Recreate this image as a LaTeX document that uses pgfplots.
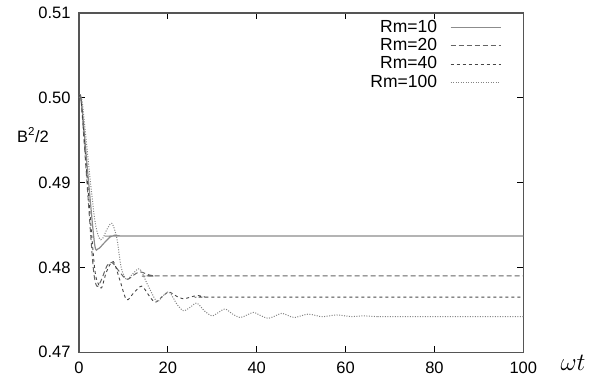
\documentclass[border=0pt]{standalone}
\usepackage{pgfplots}
\pgfplotsset{compat=1.18}
\usepackage{fontspec}
\setmainfont{Liberation Sans}
\definecolor{cten}{RGB}{140,140,140}
\definecolor{ctwenty}{RGB}{100,100,100}
\definecolor{cforty}{RGB}{70,70,70}
\definecolor{chundred}{RGB}{130,130,130}
\definecolor{frame}{RGB}{85,85,85}
\begin{document}
\begin{tikzpicture}[x=1pt,y=1pt]
\useasboundingbox (-79,-29.7) rectangle (515,352.3);
\begin{axis}[
  at={(0,0)}, anchor=south west,
  scale only axis, width=444.3pt, height=339.3pt,
  xmin=0, xmax=100, ymin=0.47, ymax=0.51,
  xtick={0,20,40,60,80,100},
  ytick={0.47,0.48,0.49,0.50,0.51},
  /pgf/number format/assume math mode=true,
  ticklabel style={font=\fontsize{16.5}{18}\selectfont},
  xticklabel style={yshift=-6pt},
  yticklabel style={xshift=-5pt, /pgf/number format/fixed, /pgf/number format/fixed zerofill, /pgf/number format/precision=2},
  tick align=inside, major tick length=6pt,
  tick style={black, line width=0.8pt},
  axis line style={frame, line width=1.2pt},
  scaled y ticks=false,
  legend style={at={(rel axis cs:0.951,0.985)}, anchor=north east, draw=none, fill=none,
    font=\fontsize{17.5}{17.5}\selectfont, inner sep=0pt,
    nodes={inner sep=1pt, text height=13pt, text depth=3.3pt},
    column sep=12pt},
  legend cell align=right,
  legend plot pos=right,
  legend image code/.code={\draw[#1] (0pt,0pt) -- (50pt,0pt);},
  clip mode=individual,
]
\addplot[cten, line width=1.2pt, smooth, tension=0.5] coordinates {
(0,0.5000)(0.5,0.4998)(2,0.4910)(3.5,0.4828)(4.3,0.4822)(5.5,0.4828)(7,0.4836)(8,0.4838)(9.5,0.4837)(12,0.4837)(100,0.4837)};
\addlegendentry{Rm=10}
\addplot[ctwenty, line width=1pt, dash pattern=on 5pt off 3pt, smooth, tension=0.5] coordinates {
(0,0.5000)(0.5,0.4995)(2,0.4885)(3.2,0.4800)(4.0,0.4778)(5,0.4785)(6.3,0.4802)(7.4,0.4806)(8.8,0.4797)(10.7,0.4786)(12.3,0.4791)(13.7,0.4795)(15.3,0.4792)(17,0.4790)(20,0.4790)(100,0.4790)};
\addlegendentry{Rm=20}
\addplot[cforty, line width=0.9pt, dash pattern=on 3pt off 3pt, smooth, tension=0.5] coordinates {
(0,0.5000)(0.5,0.4996)(2,0.4895)(3.5,0.4800)(4.4,0.4780)(5.1,0.4776)(6.2,0.4795)(7.7,0.4807)(9.2,0.4785)(10.7,0.4762)(12.3,0.4770)(14.1,0.4778)(15.6,0.4768)(17.1,0.4759)(18.6,0.4765)(20.2,0.4771)(22,0.4766)(23.5,0.4763)(25,0.4765)(26.8,0.4767)(28.5,0.4765)(31,0.4765)(100,0.4765)};
\addlegendentry{Rm=40}
\addplot[chundred, line width=1pt, dash pattern=on 1pt off 1.5pt, smooth, tension=0.5] coordinates {
(0,0.5000)(0.7,0.4996)(2,0.4930)(3.5,0.4858)(4.5,0.4835)(5.3,0.4834)(6.3,0.4845)(7.4,0.4852)(8.5,0.4835)(9.5,0.4800)(10.7,0.4786)(12.2,0.4793)(13.7,0.4798)(15.6,0.4778)(17.5,0.4760)(18.8,0.4766)(20.3,0.4771)(22,0.4757)(23.5,0.4749)(25,0.4753)(26.5,0.4758)(28.2,0.4749)(29.9,0.4743)(31.4,0.4747)(32.9,0.4751)(34.6,0.4745)(36.3,0.4741)(37.8,0.4744)(39.3,0.4747)(41,0.4743)(42.6,0.4740)(44.2,0.4743)(45.7,0.4746)(47.2,0.4743)(48.6,0.4741)(51.6,0.4745)(54.7,0.4742)(58,0.4744)(61.4,0.4742)(63.7,0.4743)(67.3,0.4742)(70,0.4742)(100,0.4742)};
\addlegendentry{Rm=100}
\node[font=\fontsize{16.5}{18}\selectfont] at (rel axis cs:-0.1035,0.6404) {B\textsuperscript{2}/2};
\node[font=\fontsize{23}{23}\selectfont] at (rel axis cs:1.112,-0.0315) {$\omega t$};
\end{axis}
\end{tikzpicture}
\end{document}
